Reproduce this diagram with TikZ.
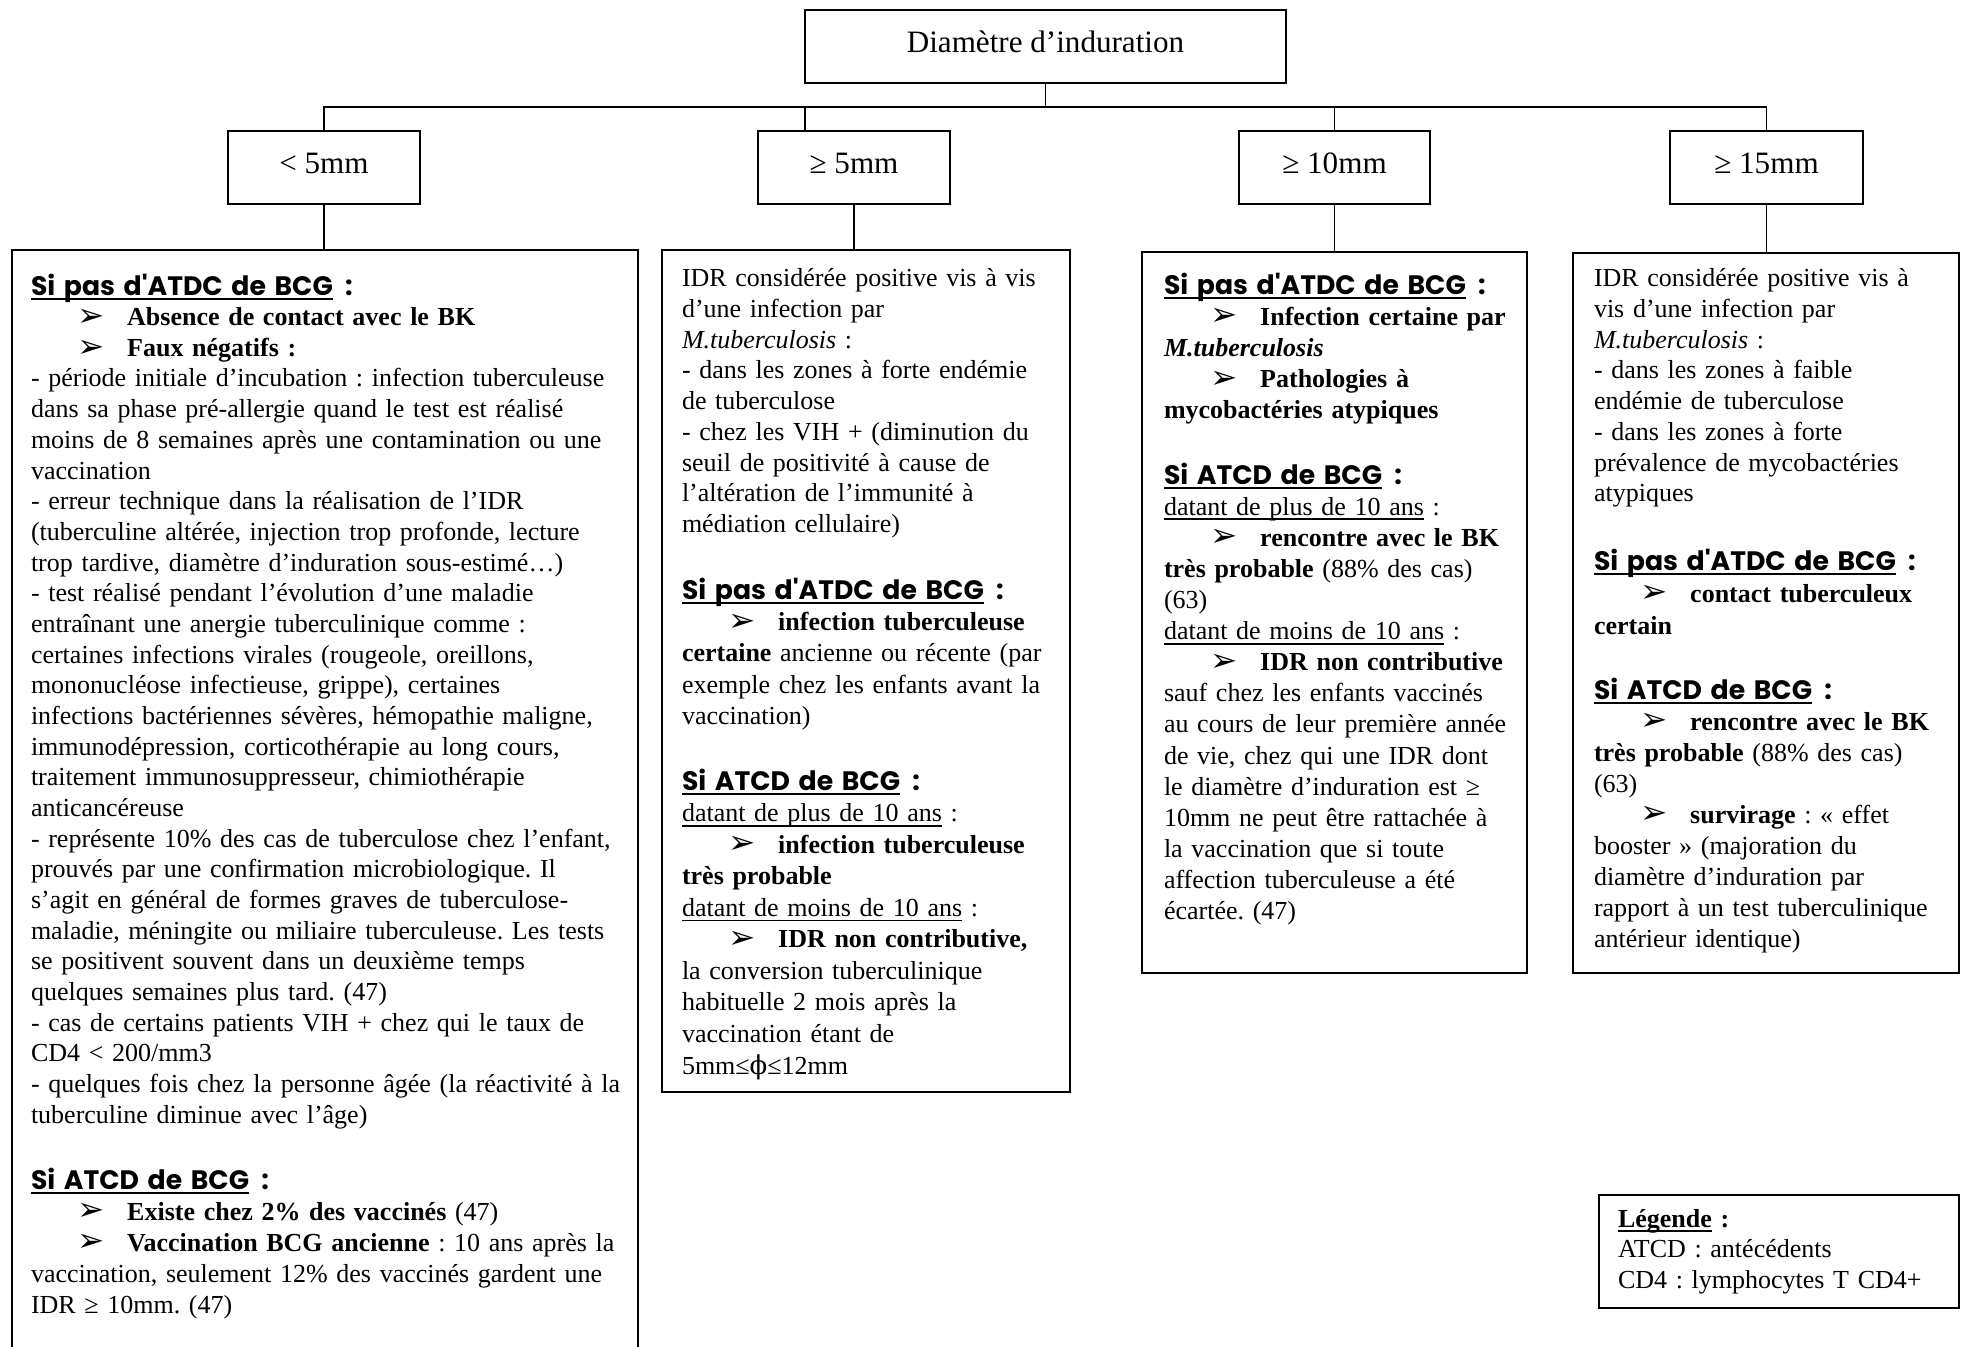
\documentclass[tikz,border=0pt]{standalone}
\usepackage{fontspec}
\setmainfont{Liberation Serif}
\newfontfamily\headf{Poppins}
\newfontfamily\arrowf{DejaVu Sans}[Scale=1.25]
\newfontfamily\phif{DejaVu Serif}
\usetikzlibrary{calc}
\frenchspacing
\newcommand\myul[1]{\leavevmode\setbox0\hbox{#1}\rlap{\rule[-2.3pt]{\wd0}{0.8pt}}\box0\relax}
\newcommand\hd[1]{{\headf\bfseries\fontsize{12}{13.8}\selectfont\myul{#1}\hspace{5.5pt}:}}
\newcommand\bul{\leavevmode\hspace*{21pt}\makebox[22.3pt][l]{\raisebox{-0.3pt}{\arrowf ➢}}}
\tikzset{
  x=0.45pt, y=-0.45pt,
  box/.style={draw, line width=0.8pt, inner sep=0pt, outer sep=0pt, anchor=north west},
  lbl/.style={inner sep=0pt, font=\fontsize{14}{16}\selectfont},
  conn/.style={line width=0.6pt},
  txt/.style={anchor=base west, inner sep=0pt, outer sep=0pt, align=left, text width=330pt,
    font=\fontsize{11.7}{13.8}\selectfont},
  txts/.style={txt, font=\fontsize{11.7}{#1}\selectfont},
}
\begin{document}
\begin{tikzpicture}
\useasboundingbox[fill=white] (0,0) rectangle (1962,1347);
% level 1 and 2
\node[box, minimum width=481*0.45pt, minimum height=73*0.45pt] (top) at (805,10) {};
\node[box, minimum width=192*0.45pt, minimum height=73*0.45pt] (c1) at (228,131) {};
\node[box, minimum width=192*0.45pt, minimum height=73*0.45pt] (c2) at (758,131) {};
\node[box, minimum width=191*0.45pt, minimum height=73*0.45pt] (c3) at (1239,131) {};
\node[box, minimum width=193*0.45pt, minimum height=73*0.45pt] (c4) at (1670,131) {};
\node[lbl] (topl) at ([yshift=2.2pt]top.center) {Diamètre d’induration};
\node[lbl] (c1l) at ([yshift=1.8pt]c1.center) {< 5mm};
\node[lbl] (c2l) at ([yshift=1.8pt]c2.center) {≥ 5mm};
\node[lbl] (c3l) at ([yshift=1.8pt]c3.center) {≥ 10mm};
\node[lbl] (c4l) at ([yshift=1.8pt]c4.center) {≥ 15mm};
% level 3
\node[box, draw=none, minimum width=626*0.45pt, minimum height=1097*0.45pt] (bA) at (12,250) {};
\draw[line width=0.8pt] (bA.south west) -- (bA.north west) -- (bA.north east) -- (bA.south east);
\node[box, minimum width=408*0.45pt, minimum height=842*0.45pt] (bB) at (662,250) {};
\node[box, minimum width=385*0.45pt, minimum height=721*0.45pt] (bC) at (1142,252) {};
\node[box, minimum width=386*0.45pt, minimum height=720*0.45pt] (bD) at (1573,253) {};
\node[box, minimum width=360*0.45pt, minimum height=113*0.45pt] (leg) at (1599,1195) {};
% connectors
\coordinate (bus) at (1045,107);
\coordinate (c2up) at (805,107);
\draw[conn] (top.south) -- (top.south |- bus);
\draw[conn] (c1.north) -- (c1.north |- bus) -- (c4.north |- bus) -- (c4.north);
\draw[conn] (c2up) -- (c2up |- c2.north);
\draw[conn] (c3.north |- bus) -- (c3.north);
\draw[conn] (c1.south) -- (c1.south |- bA.north);
\draw[conn] (c2.south) -- (c2.south |- bB.north);
\draw[conn] (c3.south) -- (c3.south |- bC.north);
\draw[conn] (c4.south) -- (c4.south |- bD.north);
% box A
\node[txt] (tA1) at (31,295) {\hd{Si pas d\textquotesingle ATDC de BCG}\\
\bul\textbf{Absence de contact avec le BK}\\
\bul\textbf{Faux négatifs :}\\
- période initiale d’incubation : infection tuberculeuse\\
dans sa phase pré-allergie quand le test est réalisé\\
moins de 8 semaines après une contamination ou une\\
vaccination\\
- erreur technique dans la réalisation de l’IDR\\
(tuberculine altérée, injection trop profonde, lecture\\
trop tardive, diamètre d’induration sous-estimé…)\\
- test réalisé pendant l’évolution d’une maladie\\
entraînant une anergie tuberculinique comme :\\
certaines infections virales (rougeole, oreillons,\\
mononucléose infectieuse, grippe), certaines\\
infections bactériennes sévères, hémopathie maligne,\\
immunodépression, corticothérapie au long cours,\\
traitement immunosuppresseur, chimiothérapie\\
anticancéreuse\\
- représente 10\% des cas de tuberculose chez l’enfant,\\
prouvés par une confirmation microbiologique. Il\\
s’agit en général de formes graves de tuberculose-\\
maladie, méningite ou miliaire tuberculeuse. Les tests\\
se positivent souvent dans un deuxième temps\\
quelques semaines plus tard. (47)\\
- cas de certains patients VIH + chez qui le taux de\\
CD4 < 200/mm3\\
- quelques fois chez la personne âgée (la réactivité à la\\
tuberculine diminue avec l’âge)};
\node[txts=13.95pt] (tA2) at (31,1189) {\hd{Si ATCD de BCG}\\
\bul\textbf{Existe chez 2\% des vaccinés} (47)\\
\bul\textbf{Vaccination BCG ancienne} : 10 ans après la\\
vaccination, seulement 12\% des vaccinés gardent une\\
IDR ≥ 10mm. (47)};
% box B
\node[txt] (tB1) at (682,287) {IDR considérée positive vis à vis\\
d’une infection par\\
\textit{M.tuberculosis} :\\
- dans les zones à forte endémie\\
de tuberculose\\
- chez les VIH + (diminution du\\
seuil de positivité à cause de\\
l’altération de l’immunité à\\
médiation cellulaire)};
\node[txts=14.1pt] (tB2) at (682,599) {\hd{Si pas d\textquotesingle ATDC de BCG}\\
\bul\textbf{infection tuberculeuse}\\
\textbf{certaine} ancienne ou récente (par\\
exemple chez les enfants avant la\\
vaccination)};
\node[txts=14.2pt] (tB3) at (682,790) {\hd{Si ATCD de BCG}\\
\myul{datant de plus de 10 ans} :\\
\bul\textbf{infection tuberculeuse}\\
\textbf{très probable}\\
\myul{datant de moins de 10 ans} :\\
\bul\textbf{IDR non contributive,}\\
la conversion tuberculinique\\
habituelle 2 mois après la\\
vaccination étant de\\
5mm≤{\phif ϕ}≤12mm};
% box C
\node[txts=14.06pt] (tC1) at (1164,294) {\hd{Si pas d\textquotesingle ATDC de BCG}\\
\bul\textbf{Infection certaine par}\\
\textbf{\textit{M.tuberculosis}}\\
\bul\textbf{Pathologies à}\\
\textbf{mycobactéries atypiques}};
\node[txts=14pt] (tC2) at (1164,484) {\hd{Si ATCD de BCG}\\
\myul{datant de plus de 10 ans} :\\
\bul\textbf{rencontre avec le BK}\\
\textbf{très probable} (88\% des cas)\\
(63)\\
\myul{datant de moins de 10 ans} :\\
\bul\textbf{IDR non contributive}\\
sauf chez les enfants vaccinés\\
au cours de leur première année\\
de vie, chez qui une IDR dont\\
le diamètre d’induration est ≥\\
10mm ne peut être rattachée à\\
la vaccination que si toute\\
affection tuberculeuse a été\\
écartée. (47)};
% box D
\node[txt] (tD1) at (1594,287) {IDR considérée positive vis à\\
vis d’une infection par\\
\textit{M.tuberculosis} :\\
- dans les zones à faible\\
endémie de tuberculose\\
- dans les zones à forte\\
prévalence de mycobactéries\\
atypiques};
\node[txts=14.4pt] (tD2) at (1594,570) {\hd{Si pas d\textquotesingle ATDC de BCG}\\
\bul\textbf{contact tuberculeux}\\
\textbf{certain}};
\node[txts=13.95pt] (tD3) at (1594,699) {\hd{Si ATCD de BCG}\\
\bul\textbf{rencontre avec le BK}\\
\textbf{très probable} (88\% des cas)\\
(63)\\
\bul\textbf{survirage} : « effet\\
booster » (majoration du\\
diamètre d’induration par\\
rapport à un test tuberculinique\\
antérieur identique)};
% legend
\node[txt] (tL) at (1618,1227) {\textbf{\myul{Légende} :}\\
ATCD : antécédents\\
CD4 : lymphocytes T CD4+};
\end{tikzpicture}
\end{document}
